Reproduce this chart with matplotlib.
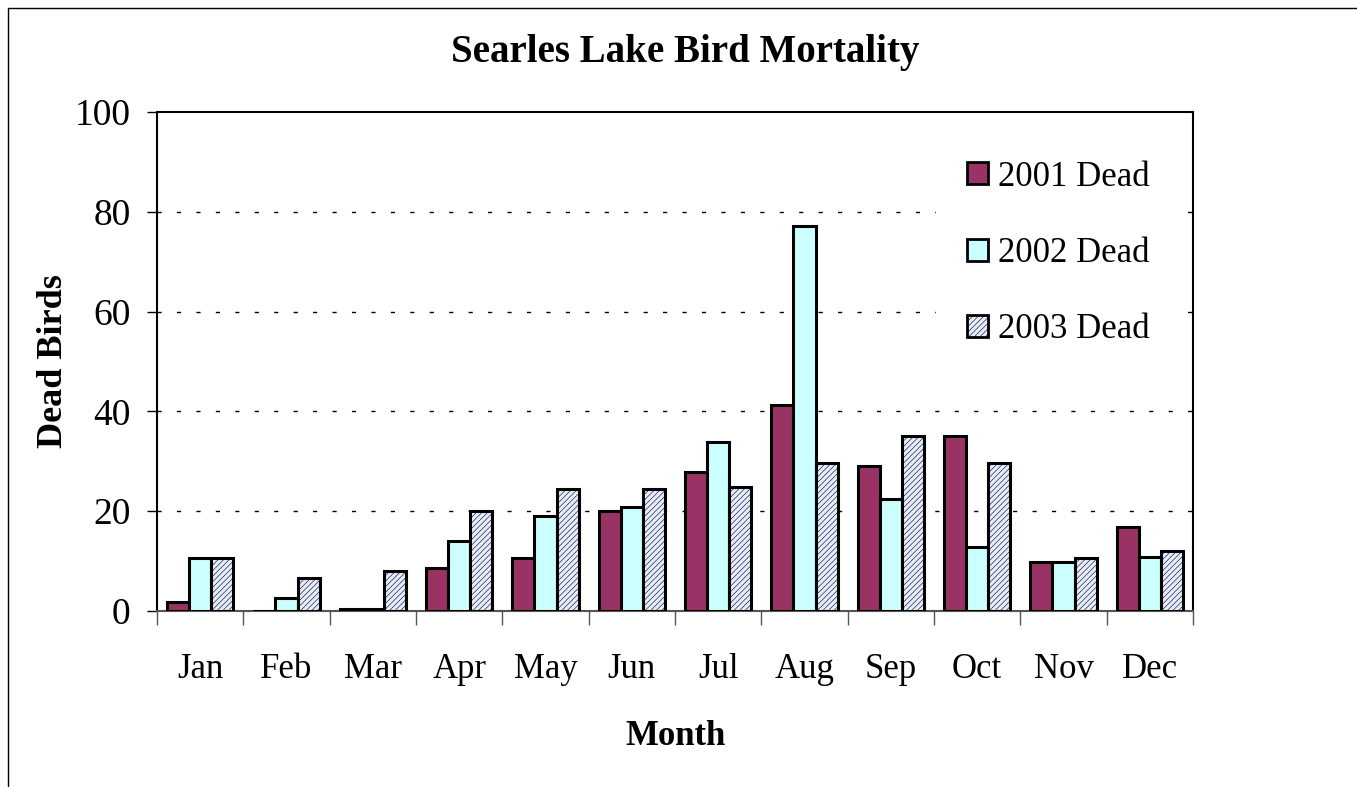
import numpy as np
import matplotlib.pyplot as plt
from matplotlib.patches import Rectangle

months = ['Jan', 'Feb', 'Mar', 'Apr', 'May', 'Jun', 'Jul', 'Aug', 'Sep', 'Oct', 'Nov', 'Dec']
dead_2001 = [1.8, 0, 0.5, 8.6, 10.6, 20, 27.8, 41.3, 29, 35, 9.8, 16.8]
dead_2002 = [10.6, 2.6, 0.5, 14, 19, 20.8, 33.9, 77.2, 22.4, 12.8, 9.8, 10.8]
dead_2003 = [10.6, 6.6, 8, 20, 24.4, 24.4, 24.8, 29.7, 35, 29.7, 10.6, 12]

plt.rcParams['font.family'] = ['Liberation Serif', 'DejaVu Serif']
plt.rcParams['hatch.color'] = '#b3c0f4'
plt.rcParams['hatch.linewidth'] = 0.4

fig = plt.figure(figsize=(13.57, 7.87), dpi=100)
fig.patches.append(Rectangle((8 / 1357, -0.1), 1.2, 1.1 - 8 / 787,
                             transform=fig.transFigure, fill=False,
                             edgecolor='black', linewidth=1.0))
ax = fig.add_axes([157 / 1357, 1 - 611 / 787, 1036 / 1357, 499 / 787])

x = np.arange(len(months))
w = 0.255
ax.bar(x - w, dead_2001, w, color='#993366', edgecolor='black', linewidth=2.2, label='2001 Dead', zorder=3)
ax.bar(x, dead_2002, w, color='#ccffff', edgecolor='black', linewidth=2.2, label='2002 Dead', zorder=3)
ax.bar(x + w, dead_2003, w, color='#e6ecff', edgecolor='black', linewidth=2.2,
       hatch='//////', label='2003 Dead', zorder=3)

ax.set_xlim(-0.5, len(months) - 0.5)
ax.set_ylim(0, 100)
ax.set_yticks([0, 20, 40, 60, 80, 100])
ax.tick_params(axis='y', labelsize=27, length=7, width=1, direction='out', pad=12)
for y in [20, 40, 60, 80]:
    ax.axhline(y, color='black', linestyle=(0, (3, 11)), linewidth=1.0, zorder=1)

ax.set_xticks(np.arange(len(months) + 1) - 0.5)
ax.set_xticklabels([])
ax.tick_params(axis='x', which='major', length=10, width=1, color='#555555', direction='out')
ax.set_xticks(x, minor=True)
ax.set_xticklabels(months, minor=True)
ax.tick_params(axis='x', which='minor', length=0, labelsize=25, pad=30)

for s in ['top', 'right', 'left']:
    ax.spines[s].set_linewidth(1.5)
ax.spines['bottom'].set_color('#555555')
ax.spines['bottom'].set_linewidth(1.5)

ax.set_xlabel('Month', fontsize=25, fontweight='bold', labelpad=25)
ax.set_ylabel('Dead Birds', fontsize=26, fontweight='bold', labelpad=3)
fig.text(0.505, 0.933, 'Searles Lake Bird Mortality', ha='center', va='center',
         fontsize=28, fontweight='bold')

leg = ax.legend(loc='upper left', bbox_to_anchor=(0.735, 1.0), fontsize=25,
                frameon=True, framealpha=1, edgecolor='none', fancybox=False,
                handlelength=0.6, handleheight=0.6, handletextpad=0.3,
                labelspacing=1.25, borderpad=0.9)
leg.set_zorder(4)
for h in leg.legend_handles:
    h.set_linewidth(2.0)

fig.savefig('out.png', dpi=100)
